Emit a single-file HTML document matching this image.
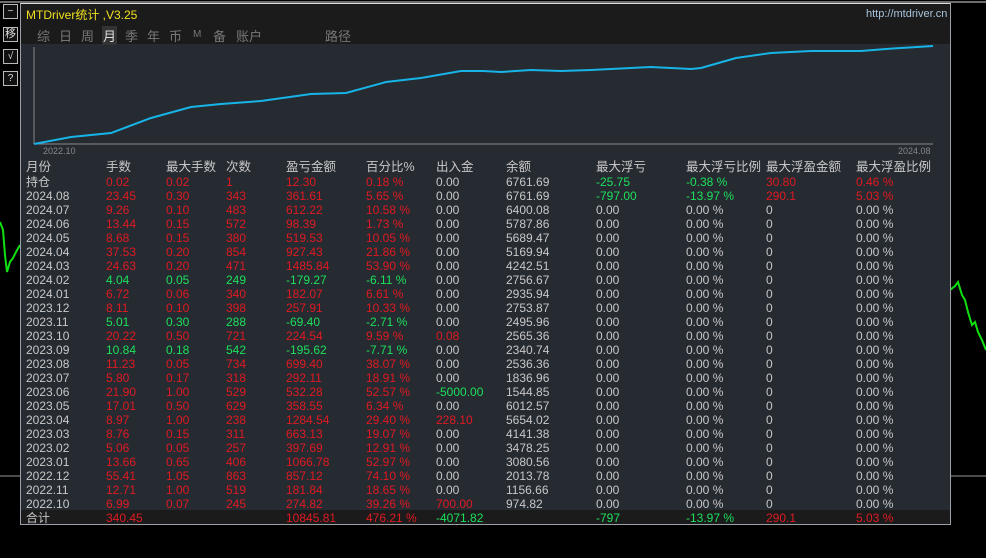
<!DOCTYPE html>
<html><head><meta charset="utf-8"><style>
html,body{margin:0;padding:0;background:#000;width:986px;height:558px;overflow:hidden;font-family:"Liberation Sans","Noto Sans CJK SC",sans-serif;}
.a{position:absolute;white-space:nowrap}
#panel{position:absolute;left:20px;top:3px;width:929px;height:520px;background:#262a31;border:1px solid #9aa0a8;border-top:1px solid #ddd}
#tb{position:absolute;left:0;top:0;width:929px;height:40px;background:#1b1b1b}
.btn{position:absolute;left:3px;width:13px;height:13px;border:1px solid #bbb;color:#ddd;font-size:10px;line-height:13px;text-align:center;background:#111}
.r{position:absolute;left:0;height:14px;font-size:12px;line-height:14px;color:#c8c8c8;width:929px}
.r span{position:absolute;top:0}
.hd{font-size:12.5px}
.R{color:#e01a22}.G{color:#1de05c}
.t{position:absolute;top:22px;font-size:13px;color:#777}
</style></head><body>
<div class="btn" style="top:4px">−</div>
<div class="btn" style="top:27px;font-size:11px">移</div>
<div class="btn" style="top:49px">√</div>
<div class="btn" style="top:71px">?</div>
<svg class="a" style="left:0;top:0" width="986" height="558">
<line x1="0" y1="2" x2="986" y2="2" stroke="#ddd"/>
<line x1="0" y1="476" x2="20" y2="476" stroke="#999"/>
<line x1="950" y1="476" x2="986" y2="476" stroke="#999"/>
<polyline fill="none" stroke="#10e010" stroke-width="2" points="0,222 3,230 5,255 7,272 10,262 13,258 16,252 20,245"/>
<polyline fill="none" stroke="#10e010" stroke-width="2" points="950,290 955,286 958,282 962,295 965,300 968,312 972,325 975,322 978,332 982,340 986,350"/>
</svg>
<div id="panel">
<div id="tb"></div>
<div class="a" style="left:5px;top:2px;font-size:12px;color:#f0e020">MTDriver统计 ,V3.25</div>
<div class="a" style="left:845px;top:4px;font-size:11px;color:#a8c4dc">http://mtdriver.cn</div>
<span class="t" style="left:16px">综</span><span class="t" style="left:38px">日</span><span class="t" style="left:60px">周</span><span class="t" style="left:81px;color:#ddd;background:#333;padding:0 1px">月</span><span class="t" style="left:104px">季</span><span class="t" style="left:126px">年</span><span class="t" style="left:148px">币</span><span class="t" style="left:172px;font-size:10px;top:25px">M</span><span class="t" style="left:192px">备</span><span class="t" style="left:215px">账户</span>
<span class="t" style="left:304px">路径</span>
<svg class="a" style="left:0;top:40px" width="929" height="115">
<line x1="13" y1="3" x2="13" y2="100" stroke="#888"/>
<line x1="13" y1="100" x2="912" y2="100" stroke="#888"/>
<polyline fill="none" stroke="#17b4e8" stroke-width="2" points="13,100 50,93 90,89 130,74 170,63 200,60 240,57 290,50 325,49 365,38 400,34 440,27 462,27 480,28 510,26 540,27 570,26 630,23 670,25 680,24 715,14 750,9 790,7 840,7 865,5 912,2"/>
<text x="22" y="110" fill="#888" font-size="9" font-family="Liberation Sans">2022.10</text>
<text x="877" y="110" fill="#888" font-size="9" font-family="Liberation Sans">2024.08</text>
</svg>
<div id="rows"></div>
<div class="a" style="left:0;top:506px;width:929px;height:14px;background:#1b1b1b"></div>
<div id="tot"></div>
</div>
<script>
var X=[5,85,145,205,265,345,415,485,575,665,745,835];
var H=["月份","手数","最大手数","次数","盈亏金额","百分比%","出入金","余额","最大浮亏","最大浮亏比例","最大浮盈金额","最大浮盈比例"];
var D=[
["持仓","0.02","0.02","1","12.30","0.18 %","0.00","6761.69","-25.75","-0.38 %","30.80","0.46 %"],
["2024.08","23.45","0.30","343","361.61","5.65 %","0.00","6761.69","-797.00","-13.97 %","290.1","5.03 %"],
["2024.07","9.26","0.10","483","612.22","10.58 %","0.00","6400.08"],
["2024.06","13.44","0.15","572","98.39","1.73 %","0.00","5787.86"],
["2024.05","8.68","0.15","380","519.53","10.05 %","0.00","5689.47"],
["2024.04","37.53","0.20","854","927.43","21.86 %","0.00","5169.94"],
["2024.03","24.63","0.20","471","1485.84","53.90 %","0.00","4242.51"],
["2024.02","4.04","0.05","249","-179.27","-6.11 %","0.00","2756.67"],
["2024.01","6.72","0.06","340","182.07","6.61 %","0.00","2935.94"],
["2023.12","8.11","0.10","398","257.91","10.33 %","0.00","2753.87"],
["2023.11","5.01","0.30","288","-69.40","-2.71 %","0.00","2495.96"],
["2023.10","20.22","0.50","721","224.54","9.59 %","0.08","2565.36"],
["2023.09","10.84","0.18","542","-195.62","-7.71 %","0.00","2340.74"],
["2023.08","11.23","0.05","734","699.40","38.07 %","0.00","2536.36"],
["2023.07","5.80","0.17","318","292.11","18.91 %","0.00","1836.96"],
["2023.06","21.90","1.00","529","532.28","52.57 %","-5000.00","1544.85"],
["2023.05","17.01","0.50","629","358.55","6.34 %","0.00","6012.57"],
["2023.04","8.97","1.00","238","1284.54","29.40 %","228.10","5654.02"],
["2023.03","8.76","0.15","311","663.13","19.07 %","0.00","4141.38"],
["2023.02","5.06","0.05","257","397.69","12.91 %","0.00","3478.25"],
["2023.01","13.66","0.65","406","1066.78","52.97 %","0.00","3080.56"],
["2022.12","55.41","1.05","863","857.12","74.10 %","0.00","2013.78"],
["2022.11","12.71","1.00","519","181.84","18.65 %","0.00","1156.66"],
["2022.10","6.99","0.07","245","274.82","39.26 %","700.00","974.82"]];
function row(cells,top,cls,extra){var h='<div class="r '+(extra||'')+'" style="top:'+top+'px">';for(var i=0;i<cells.length;i++){if(cells[i]==='')continue;h+='<span class="'+(cls[i]||'')+'" style="left:'+X[i]+'px">'+cells[i]+'</span>';}return h+'</div>';}
var out=row(H,156,[],'hd');
D.forEach(function(r,k){
 if(r.length<9)r=r.concat(["0.00","0.00 %","0","0.00 %"]);
 var neg=r[4].charAt(0)=='-';var c=[''];
 for(var i=1;i<=5;i++)c.push(neg?'G':'R');
 var io=r[6];c.push(io.charAt(0)=='-'?'G':(io!='0.00'?'R':''));
 c.push('');
 if(k<2){c.push('G','G','R','R');}
 out+=row(r,171+14*k,c);});
document.getElementById('rows').innerHTML=out;
document.getElementById('tot').innerHTML=row(["合计","340.45","","","10845.81","476.21 %","-4071.82","","-797","-13.97 %","290.1","5.03 %"],507,['','R','','','R','R','G','','G','G','R','R']);
</script>
</body></html>
